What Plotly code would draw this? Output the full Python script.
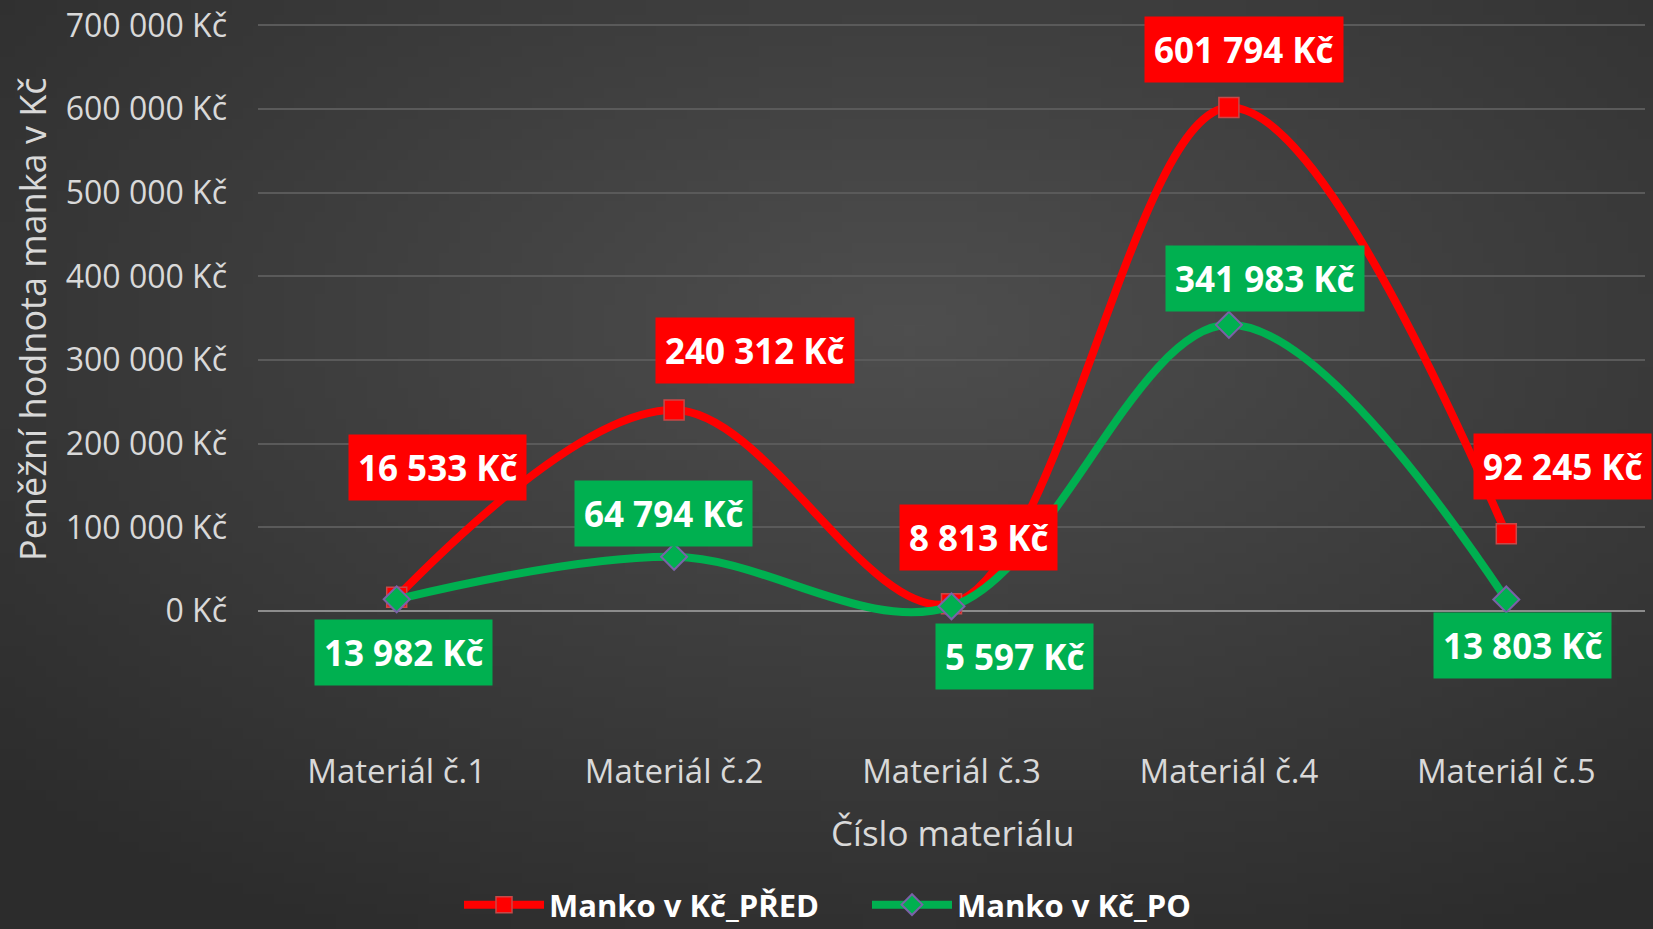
import base64, struct, zlib, math
import plotly.graph_objects as go

# ---- data ----
categories = ["Materiál č.1", "Materiál č.2", "Materiál č.3", "Materiál č.4", "Materiál č.5"]
pred_values = [16533, 240312, 8813, 601794, 92245]
po_values = [13982, 64794, 5597, 341983, 13803]
pred_labels = ["16 533 Kč", "240 312 Kč", "8 813 Kč", "601 794 Kč", "92 245 Kč"]
po_labels = ["13 982 Kč", "64 794 Kč", "5 597 Kč", "341 983 Kč", "13 803 Kč"]
y_tick_vals = [0, 100000, 200000, 300000, 400000, 500000, 600000, 700000]
y_tick_text = ["0 Kč", "100 000 Kč", "200 000 Kč", "300 000 Kč", "400 000 Kč",
               "500 000 Kč", "600 000 Kč", "700 000 Kč"]
series_names = ["Manko v Kč_PŘED", "Manko v Kč_PO"]

# label pixel offsets (styling)
pred_shift = [(41, 130), (81, 59), (27, 66), (15, 58), (56, 67)]
po_shift = [(7, -53), (-11, 43), (63, -50), (36, 46), (16, -46)]

W, H = 1653, 929
L, R, T, B = 258, 8, 10, 181
plot_w = W - L - R
plot_h = H - T - B

# ---- background radial gradient image ----
def make_png(w, h, cx, cy, c0, c1):
    rows = []
    for j in range(h):
        row = bytearray([0])
        for i in range(w):
            dx = (i / (w - 1) - cx) / 0.75
            dy = (j / (h - 1) - cy) / 0.75
            d = min(1.0, math.sqrt(dx * dx + dy * dy))
            v = int(round(c0 + (c1 - c0) * d))
            row += bytes([v, v, v])
        rows.append(bytes(row))
    raw = b"".join(rows)
    def chunk(tag, data):
        c = struct.pack(">I", len(data)) + tag + data
        return c + struct.pack(">I", zlib.crc32(tag + data) & 0xffffffff)
    png = b"\x89PNG\r\n\x1a\n" + chunk(b"IHDR", struct.pack(">IIBBBBB", w, h, 8, 2, 0, 0, 0))
    png += chunk(b"IDAT", zlib.compress(raw, 9)) + chunk(b"IEND", b"")
    return "data:image/png;base64," + base64.b64encode(png).decode()

bg = make_png(160, 90, 0.55, 0.35, 78, 44)

px_per_unit = (611 - 25.3) / 700000.0
ymin = -(748 - 611) / px_per_unit
ymax = 700000 + (25.3 - T) / px_per_unit

fig = go.Figure()
fig.add_trace(go.Scatter(
    x=categories, y=pred_values, name=series_names[0], mode="lines+markers",
    line=dict(color="#FF0000", width=8, shape="spline", smoothing=1.0),
    marker=dict(symbol="square", size=20, color="#FF0000", line=dict(color="#C84848", width=1.5)),
    cliponaxis=False,
))
fig.add_trace(go.Scatter(
    x=categories, y=po_values, name=series_names[1], mode="lines+markers",
    line=dict(color="#00B050", width=8, shape="spline", smoothing=1.0),
    marker=dict(symbol="diamond", size=20, color="#00B050", line=dict(color="#7A62A8", width=2)),
    cliponaxis=False,
))

lab_font = dict(family="Open Sans", size=35, color="white", weight="bold")
annotations = []
for i, c in enumerate(categories):
    annotations.append(dict(
        x=c, y=pred_values[i], xref="x", yref="y", text=pred_labels[i], showarrow=False,
        xanchor="center", yanchor="middle",
        xshift=pred_shift[i][0], yshift=pred_shift[i][1], bgcolor="#FF0000", borderpad=9,
        font=lab_font,
    ))
    annotations.append(dict(
        x=c, y=po_values[i], xref="x", yref="y", text=po_labels[i], showarrow=False,
        xanchor="center", yanchor="middle",
        xshift=po_shift[i][0], yshift=po_shift[i][1], bgcolor="#00B050", borderpad=9,
        font=lab_font,
    ))

annotations.append(dict(
    x=(32 - L) / plot_w, y=(H - B - 319) / plot_h, xref="paper", yref="paper",
    xanchor="center", yanchor="middle",
    text="Peněžní hodnota manka v Kč", textangle=-90, showarrow=False,
    font=dict(family="Open Sans", size=36, color="#D9D9D9"),
))
annotations.append(dict(
    x=(952 - L) / plot_w, y=(H - B - 832) / plot_h, xref="paper", yref="paper",
    xanchor="center", yanchor="middle",
    text="Číslo materiálu", showarrow=False,
    font=dict(family="Open Sans", size=35, color="#D9D9D9"),
))

fig.update_layout(
    width=W, height=H,
    margin=dict(l=L, r=R, t=T, b=B, autoexpand=False),
    paper_bgcolor="#2c2c2c",
    plot_bgcolor="rgba(0,0,0,0)",
    images=[dict(source=bg, xref="paper", yref="paper",
                 x=-L / plot_w, y=1 + T / plot_h, sizex=W / plot_w, sizey=H / plot_h,
                 xanchor="left", yanchor="top", sizing="stretch", layer="below")],
    showlegend=True,
    legend=dict(orientation="h", x=(459 - L) / plot_w, xanchor="left",
                y=(H - B - 905) / plot_h, yanchor="middle",
                font=dict(family="Open Sans", size=31, color="white", weight="bold"),
                itemwidth=80, entrywidth=313, entrywidthmode="pixels",
                bgcolor="rgba(0,0,0,0)", tracegroupgap=0),
    annotations=annotations,
    xaxis=dict(range=[-0.5, 4.5], showgrid=False, zeroline=False, showline=False,
               ticks="", ticklabelstandoff=1,
               tickfont=dict(family="Open Sans", size=33, color="#D9D9D9")),
    yaxis=dict(range=[ymin, ymax], tickvals=y_tick_vals, ticktext=y_tick_text,
               showgrid=True, gridcolor="#5A5A5A", gridwidth=1.5,
               zeroline=True, zerolinecolor="#8C8C8C", zerolinewidth=2,
               showline=False, ticks="", ticklabelstandoff=30,
               tickfont=dict(family="Open Sans", size=32, color="#D9D9D9")),
)

fig.write_html("out.html", config={"displayModeBar": False},
               post_script="document.body.style.margin='0';document.body.style.overflow='hidden';")
